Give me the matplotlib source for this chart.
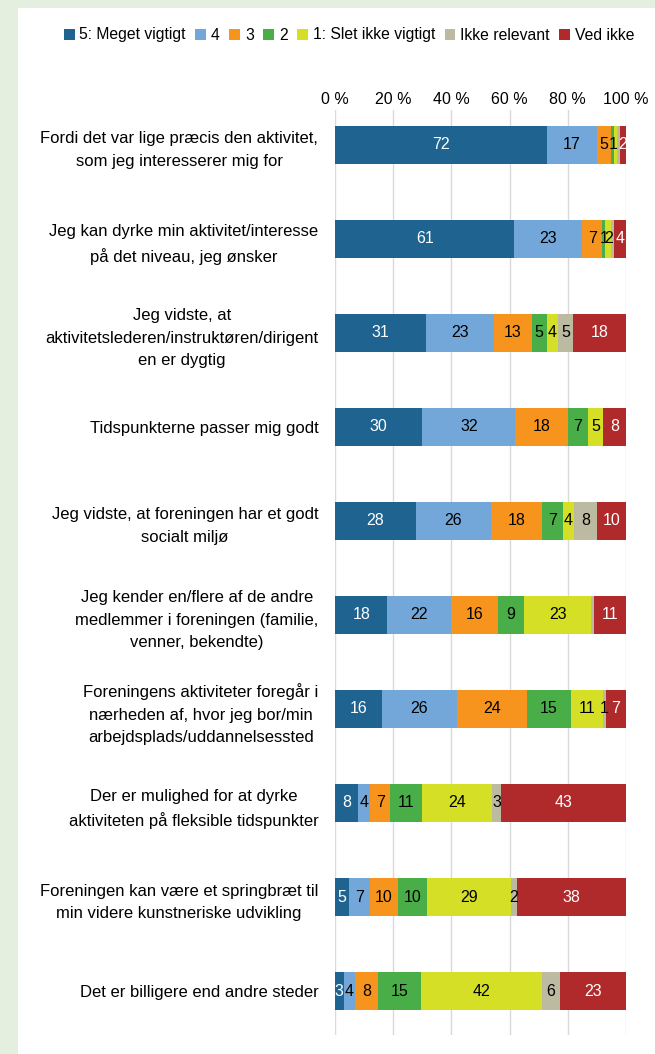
import numpy as np
import matplotlib
matplotlib.use("Agg")
import matplotlib.pyplot as plt
from matplotlib.patches import Rectangle

plt.rcParams['font.family'] = ['Liberation Sans', 'DejaVu Sans']

categories = [
    "Fordi det var lige præcis den aktivitet,\nsom jeg interesserer mig for",
    "Jeg kan dyrke min aktivitet/interesse\npå det niveau, jeg ønsker",
    "Jeg vidste, at\naktivitetslederen/instruktøren/dirigent\nen er dygtig",
    "Tidspunkterne passer mig godt",
    "Jeg vidste, at foreningen har et godt\nsocialt miljø",
    "Jeg kender en/flere af de andre\nmedlemmer i foreningen (familie,\nvenner, bekendte)",
    "Foreningens aktiviteter foregår i\nnærheden af, hvor jeg bor/min\narbejdsplads/uddannelsessted",
    "Der er mulighed for at dyrke\naktiviteten på fleksible tidspunkter",
    "Foreningen kan være et springbræt til\nmin videre kunstneriske udvikling",
    "Det er billigere end andre steder",
]

series_names = ["5: Meget vigtigt", "4", "3", "2", "1: Slet ikke vigtigt",
                "Ikke relevant", "Ved ikke"]

meget_vigtigt = [72, 61, 31, 30, 28, 18, 16, 8, 5, 3]
fire = [17, 23, 23, 32, 26, 22, 26, 4, 7, 4]
tre = [5, 7, 13, 18, 18, 16, 24, 7, 10, 8]
to = [1, 1, 5, 7, 7, 9, 15, 11, 10, 15]
slet_ikke = [1, 2, 4, 5, 4, 23, 11, 24, 29, 42]
ikke_relevant = [1, 1, 5, 0, 8, 1, 1, 3, 2, 6]
ved_ikke = [2, 4, 18, 8, 10, 11, 7, 43, 38, 23]

# segments shown without a value label in the original
hidden_labels = [(0, 4), (0, 5), (1, 5), (5, 5)]

colors = ["#1f6391", "#74a7d9", "#f7941d", "#4aae48", "#d5df26", "#bdbaa2", "#b02a2b"]
text_colors = ["white", "black", "black", "black", "black", "black", "white"]

data = np.array([meget_vigtigt, fire, tre, to, slet_ikke, ikke_relevant, ved_ikke], dtype=float)
# 100 % stacked, like the original spreadsheet chart
shares = data / data.sum(axis=0) * 100

fig = plt.figure(figsize=(6.55, 10.54), dpi=100)
fig.patch.set_facecolor("#e5efdf")
panel = Rectangle((18 / 655, 0), 1, 1 - 8 / 1054, transform=fig.transFigure,
                  facecolor="white", edgecolor="none", zorder=-10)
fig.patches.append(panel)

ax = fig.add_axes([335 / 655, 1 - 1035 / 1054, 291 / 655, 925 / 1054])
ax.set_facecolor("none")

y = np.arange(len(categories))
left = np.zeros(len(categories))
for j, name in enumerate(series_names):
    vals = shares[j]
    ax.barh(y, vals, left=left, height=0.40, color=colors[j], label=name, zorder=2)
    for i, v in enumerate(vals):
        if data[j, i] > 0 and (i, j) not in hidden_labels:
            ax.text(left[i] + v / 2, y[i], str(int(data[j, i])), ha="center", va="center",
                    fontsize=11.5, color=text_colors[j], zorder=3)
    left += vals

ax.set_xlim(0, 100)
ax.set_ylim(9.468, -0.372)
ax.set_xticks(range(0, 101, 20))
ax.set_xticklabels([f"{t} %" for t in range(0, 101, 20)], fontsize=11.5)
ax.xaxis.tick_top()
ax.tick_params(axis="x", length=0, pad=2)
ax.grid(axis="x", color="#d9d9d9", linewidth=1, zorder=1)
ax.set_yticks(y)
ax.set_yticklabels(categories, fontsize=12, multialignment="center", linespacing=1.6)
ax.tick_params(axis="y", length=0, pad=12)
for s in ax.spines.values():
    s.set_visible(False)

fig.legend(loc="center", bbox_to_anchor=(349 / 655, 1 - 35 / 1054), ncol=7,
           frameon=False, fontsize=11.3, handlelength=0.7, handleheight=0.7,
           handletextpad=0.3, columnspacing=0.6, borderaxespad=0)

fig.savefig("out.png", dpi=100, facecolor=fig.get_facecolor())
